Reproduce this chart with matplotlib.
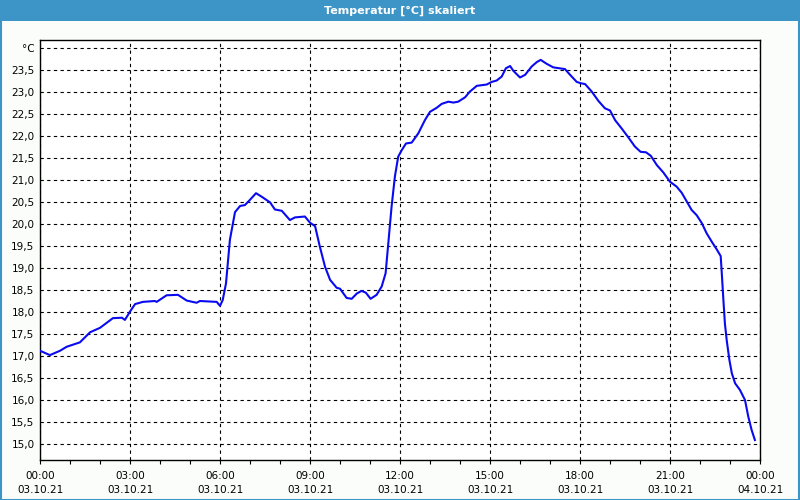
import matplotlib
matplotlib.use("Agg")
import matplotlib.pyplot as plt
from matplotlib.patches import Rectangle
import numpy as np

# time in hours after 03.10.21 00:00
hours = [0.00, 0.33, 0.67, 0.89, 1.33, 1.67, 2.00, 2.43, 2.73, 2.83,
         3.00, 3.17, 3.43, 3.83, 3.89, 4.22, 4.60, 4.89, 5.22, 5.33,
         5.89, 6.00, 6.09, 6.20, 6.33, 6.50, 6.67, 6.83, 7.00, 7.20,
         7.39, 7.67, 7.83, 8.06, 8.33, 8.50, 8.83, 9.00, 9.17, 9.33,
         9.50, 9.67, 9.89, 10.00, 10.22, 10.39, 10.56, 10.72, 10.86, 11.02,
         11.22, 11.39, 11.52, 11.61, 11.72, 11.83, 11.94, 12.06, 12.20, 12.39,
         12.61, 12.83, 13.00, 13.22, 13.39, 13.61, 13.78, 13.94, 14.17, 14.33,
         14.56, 14.89, 15.06, 15.22, 15.39, 15.53, 15.67, 15.78, 16.00, 16.17,
         16.39, 16.56, 16.69, 16.89, 17.11, 17.50, 17.67, 17.89, 18.02, 18.17,
         18.39, 18.61, 18.83, 19.00, 19.17, 19.39, 19.61, 19.83, 20.02, 20.20,
         20.36, 20.56, 20.78, 21.00, 21.22, 21.39, 21.56, 21.72, 21.89, 22.06,
         22.22, 22.39, 22.56, 22.69, 22.72, 22.78, 22.83, 22.89, 22.98, 23.06,
         23.17, 23.33, 23.50, 23.61, 23.72, 23.83]
temps = [17.12, 17.02, 17.12, 17.21, 17.31, 17.54, 17.64, 17.86, 17.87, 17.82,
         18.01, 18.18, 18.23, 18.25, 18.23, 18.38, 18.39, 18.26, 18.21, 18.25,
         18.23, 18.14, 18.27, 18.65, 19.64, 20.27, 20.41, 20.43, 20.55, 20.70,
         20.62, 20.49, 20.33, 20.30, 20.09, 20.15, 20.17, 20.03, 19.95, 19.48,
         19.03, 18.73, 18.55, 18.53, 18.32, 18.30, 18.42, 18.48, 18.44, 18.30,
         18.39, 18.58, 18.88, 19.56, 20.40, 21.08, 21.53, 21.68, 21.83, 21.85,
         22.06, 22.36, 22.55, 22.64, 22.73, 22.78, 22.76, 22.78, 22.88, 23.01,
         23.14, 23.17, 23.23, 23.26, 23.35, 23.54, 23.59, 23.48, 23.33, 23.39,
         23.58, 23.68, 23.73, 23.64, 23.56, 23.52, 23.39, 23.23, 23.20, 23.18,
         23.01, 22.80, 22.63, 22.58, 22.36, 22.17, 21.97, 21.76, 21.64, 21.63,
         21.55, 21.34, 21.17, 20.96, 20.85, 20.71, 20.51, 20.32, 20.20, 20.02,
         19.79, 19.60, 19.42, 19.27, 18.95, 18.27, 17.74, 17.36, 16.91, 16.61,
         16.38, 16.23, 16.00, 15.62, 15.32, 15.09]

xtick_hours = [0, 3, 6, 9, 12, 15, 18, 21, 24]
xtick_labels = ["00:00\n03.10.21", "03:00\n03.10.21", "06:00\n03.10.21",
                "09:00\n03.10.21", "12:00\n03.10.21", "15:00\n03.10.21",
                "18:00\n03.10.21", "21:00\n03.10.21", "00:00\n04.10.21"]
ytick_values = [15.0, 15.5, 16.0, 16.5, 17.0, 17.5, 18.0, 18.5, 19.0, 19.5, 20.0,
                20.5, 21.0, 21.5, 22.0, 22.5, 23.0, 23.5, 24.0]
ytick_labels = ["15,0", "15,5", "16,0", "16,5", "17,0", "17,5", "18,0", "18,5",
                "19,0", "19,5", "20,0", "20,5", "21,0", "21,5", "22,0", "22,5",
                "23,0", "23,5", "°C"]
title = "Temperatur [°C] skaliert"

plt.rcParams['font.family'] = ['DejaVu Sans']
fig = plt.figure(figsize=(8, 5), dpi=100, facecolor="#fbfdfb")

# title bar
fig.patches.append(Rectangle((0, 1 - 21/500), 1, 21/500, transform=fig.transFigure,
                             facecolor="#3d94c6", edgecolor="none", zorder=0))
# outer border
fig.patches.append(Rectangle((0.5/800, 0.5/500), 1 - 1.5/800, 1 - 1.5/500,
                             transform=fig.transFigure, facecolor="none",
                             edgecolor="#3d94c6", lw=1.5, zorder=1))
fig.text(0.5, 1 - 10.5/500, title, color="white", fontweight="bold", fontsize=8,
         ha="center", va="center")

ax = fig.add_axes([40/800, 40/500, 720/800, 420/500])
ax.set_facecolor("white")
ax.plot(hours, temps, color="#0a0af0", lw=1.5, zorder=3)

ax.set_xlim(0, 24)
ax.set_ylim(24 - 412/44, 24 + 8/44)
ax.set_xticks(xtick_hours)
ax.set_xticklabels(xtick_labels, fontsize=7.5, linespacing=1.45)
ax.set_xticks(np.arange(0, 25, 1), minor=True)
ax.set_yticks(ytick_values)
ax.set_yticklabels(ytick_labels, fontsize=7.5)
ax.tick_params(axis="x", which="both", direction="out", length=3, width=0.8, pad=5,
               color="black")
ax.tick_params(axis="y", length=0, pad=4)
ax.grid(True, which="major", color="black", linestyle=(0, (3, 3)), lw=0.8)
for s in ax.spines.values():
    s.set_color("black")
    s.set_linewidth(1.0)

fig.savefig("out.png", dpi=100, facecolor=fig.get_facecolor())
